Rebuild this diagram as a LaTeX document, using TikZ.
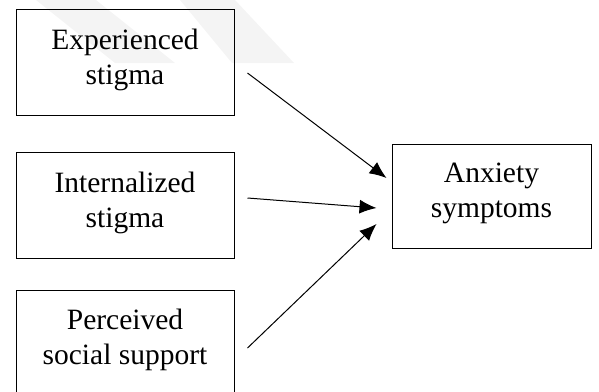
\documentclass[tikz,border=0pt]{standalone}
\usepackage{fontspec}
\setmainfont{Liberation Serif}
\usetikzlibrary{arrows.meta,calc}

\tikzset{
  varbox/.style={draw, line width=1pt, minimum width=218pt, minimum height=106pt, inner sep=0pt},
  vartext/.style={anchor=north, align=center, inner sep=0pt, font=\fontsize{29.5}{35}\selectfont},
  patharrow/.style={line width=1pt, -{Latex[length=17pt,width=14pt]}},
  watermark/.style={fill=gray!9, draw=none},
}

\begin{document}
\begin{tikzpicture}[x=1pt, y=-1pt]
			\useasboundingbox (0,0) rectangle (599,391);
			\clip (0,0) rectangle (599,391);
			% Watermark bands:
			\fill[watermark] (36,0) -- (96,0) -- (175,63) -- (115,63) -- cycle;
			\fill[watermark] (180,0) -- (235,0) -- (294,63) -- (232,63) -- cycle;
			% Boxes:
			\node[varbox] (exp) at (125,62){};
			\node[varbox] (int) at (125,205){};
			\node[varbox] (per) at (125,343){};
			\node[varbox, minimum width=199pt, minimum height=104pt] (anx) at (491.5,196){};
			% Texts:
			\node[vartext] (expT) at ($(exp.north)+(0,20)$){Experienced\\stigma};
			\node[vartext] (intT) at ($(int.north)+(0,20)$){Internalized\\stigma};
			\node[vartext] (perT) at ($(per.north)+(0,19)$){Perceived\\social support};
			\node[vartext] (anxT) at ($(anx.north)+(0,19)$){Anxiety\\symptoms};
			% Paths:
			\draw[patharrow] ($(exp.east)+(13,11)$) -- ($(anx.west)+(-5,-18)$);
			\draw[patharrow] ($(int.east)+(13,-7)$) -- ($(anx.west)+(-15,12)$);
			\draw[patharrow] ($(per.east)+(13,5)$) -- ($(anx.west)+(-15,28)$);
		\end{tikzpicture}
\end{document}
